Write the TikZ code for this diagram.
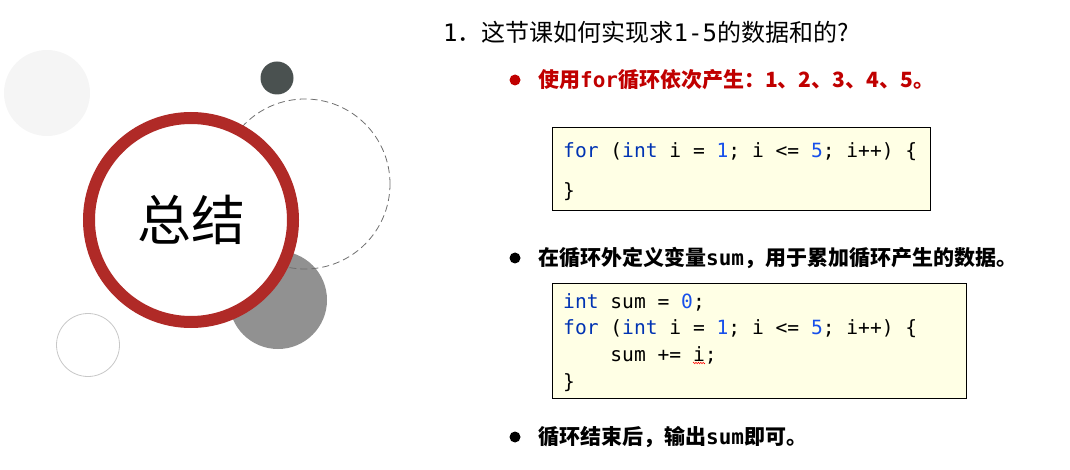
\documentclass[tikz,border=0pt]{standalone}
\usepackage{fontspec}
\setmainfont{Noto Sans CJK SC}
\newfontfamily\codefont{DejaVu Sans Mono}
\usetikzlibrary{decorations.pathmorphing}
\definecolor{RingRed}{RGB}{176,42,39}
\definecolor{PaleGray}{RGB}{245,245,245}
\definecolor{DarkSlate}{RGB}{74,81,80}
\definecolor{MidGray}{RGB}{145,145,145}
\definecolor{EdgeGray}{RGB}{200,200,200}
\definecolor{DashGray}{RGB}{110,110,110}
\definecolor{BulletRed}{RGB}{192,0,0}
\definecolor{KeyBlue}{RGB}{0,51,179}
\definecolor{NumBlue}{RGB}{23,80,235}
\definecolor{CodeFill}{RGB}{255,255,229}

\tikzset{
  dot/.style={circle, fill=black, minimum size=11pt, inner sep=0pt},
  item/.style={anchor=west, inner sep=0pt, font=\fontsize{21}{21}\selectfont\bfseries},
  codebox/.style={draw=black, fill=CodeFill, line width=0.8pt, anchor=north west, inner sep=0pt},
  code/.style={anchor=base west, inner sep=0pt, font=\codefont\fontsize{19.6}{20}\selectfont}
}
\newcommand{\kw}[1]{\textcolor{KeyBlue}{#1}}
\newcommand{\num}[1]{\textcolor{NumBlue}{#1}}
\newcommand{\mono}[1]{{\codefont #1}}

\begin{document}
\begin{tikzpicture}[x=1pt,y=-1pt]
    \useasboundingbox (0,0) rectangle (1070,470);

    \fill[PaleGray] (47,93) circle (43pt);
    \draw[EdgeGray, line width=0.8pt] (88,345) circle (31.5pt);
    \fill[MidGray] (278,300) circle (49pt);
    \draw[DashGray, dashed, dash pattern=on 7pt off 4pt, line width=0.8pt] (305,184) circle (85pt);
    \fill[DarkSlate] (277,78) circle (16.5pt);

    \node[circle, draw=RingRed, fill=white, line width=12pt, minimum size=204pt, inner sep=0pt, font=\fontsize{54}{54}\selectfont] (ring) at (191,220) {总结};

    \node[anchor=west, inner sep=0pt, font=\fontsize{24}{24}\selectfont] (title) at (443,32) {\mono{1}．这节课如何实现求\mono{1-5}的数据和的?};

    \node[dot, fill=BulletRed] (b1) at (515,80) {};
    \node[item, text=BulletRed] (t1) at (538,80) {使用\mono{for}循环依次产生：1、2、3、4、5。};

    \node[codebox, minimum width=378pt, minimum height=83pt] (box1) at (552,127) {};
    \node[code] (l11) at (563,158) {\kw{for} (\kw{int} i = \num{1}; i <= \num{5}; i++) \{};
    \node[code] (l12) at (563,198) {\}};

    \node[dot] (b2) at (515,258) {};
    \node[item] (t2) at (538,258) {在循环外定义变量\mono{sum}，用于累加循环产生的数据。};

    \node[codebox, minimum width=414pt, minimum height=115pt] (box2) at (552,283) {};
    \node[code] (l21) at (563,308) {\kw{int} sum = \num{0};};
    \node[code] (l22) at (563,334) {\kw{for} (\kw{int} i = \num{1}; i <= \num{5}; i++) \{};
    \node[code] (l23) at (563,361) {\hphantom{0000}sum += i;};
    \node[code] (l24) at (563,388) {\}};
    \draw[red, line width=0.5pt, decorate, decoration={zigzag, amplitude=0.8pt, segment length=2.4pt}] (693,363) -- (705,363);

    \node[dot] (b3) at (515,437) {};
    \node[item] (t3) at (538,437) {循环结束后，输出\mono{sum}即可。};
\end{tikzpicture}
\end{document}
